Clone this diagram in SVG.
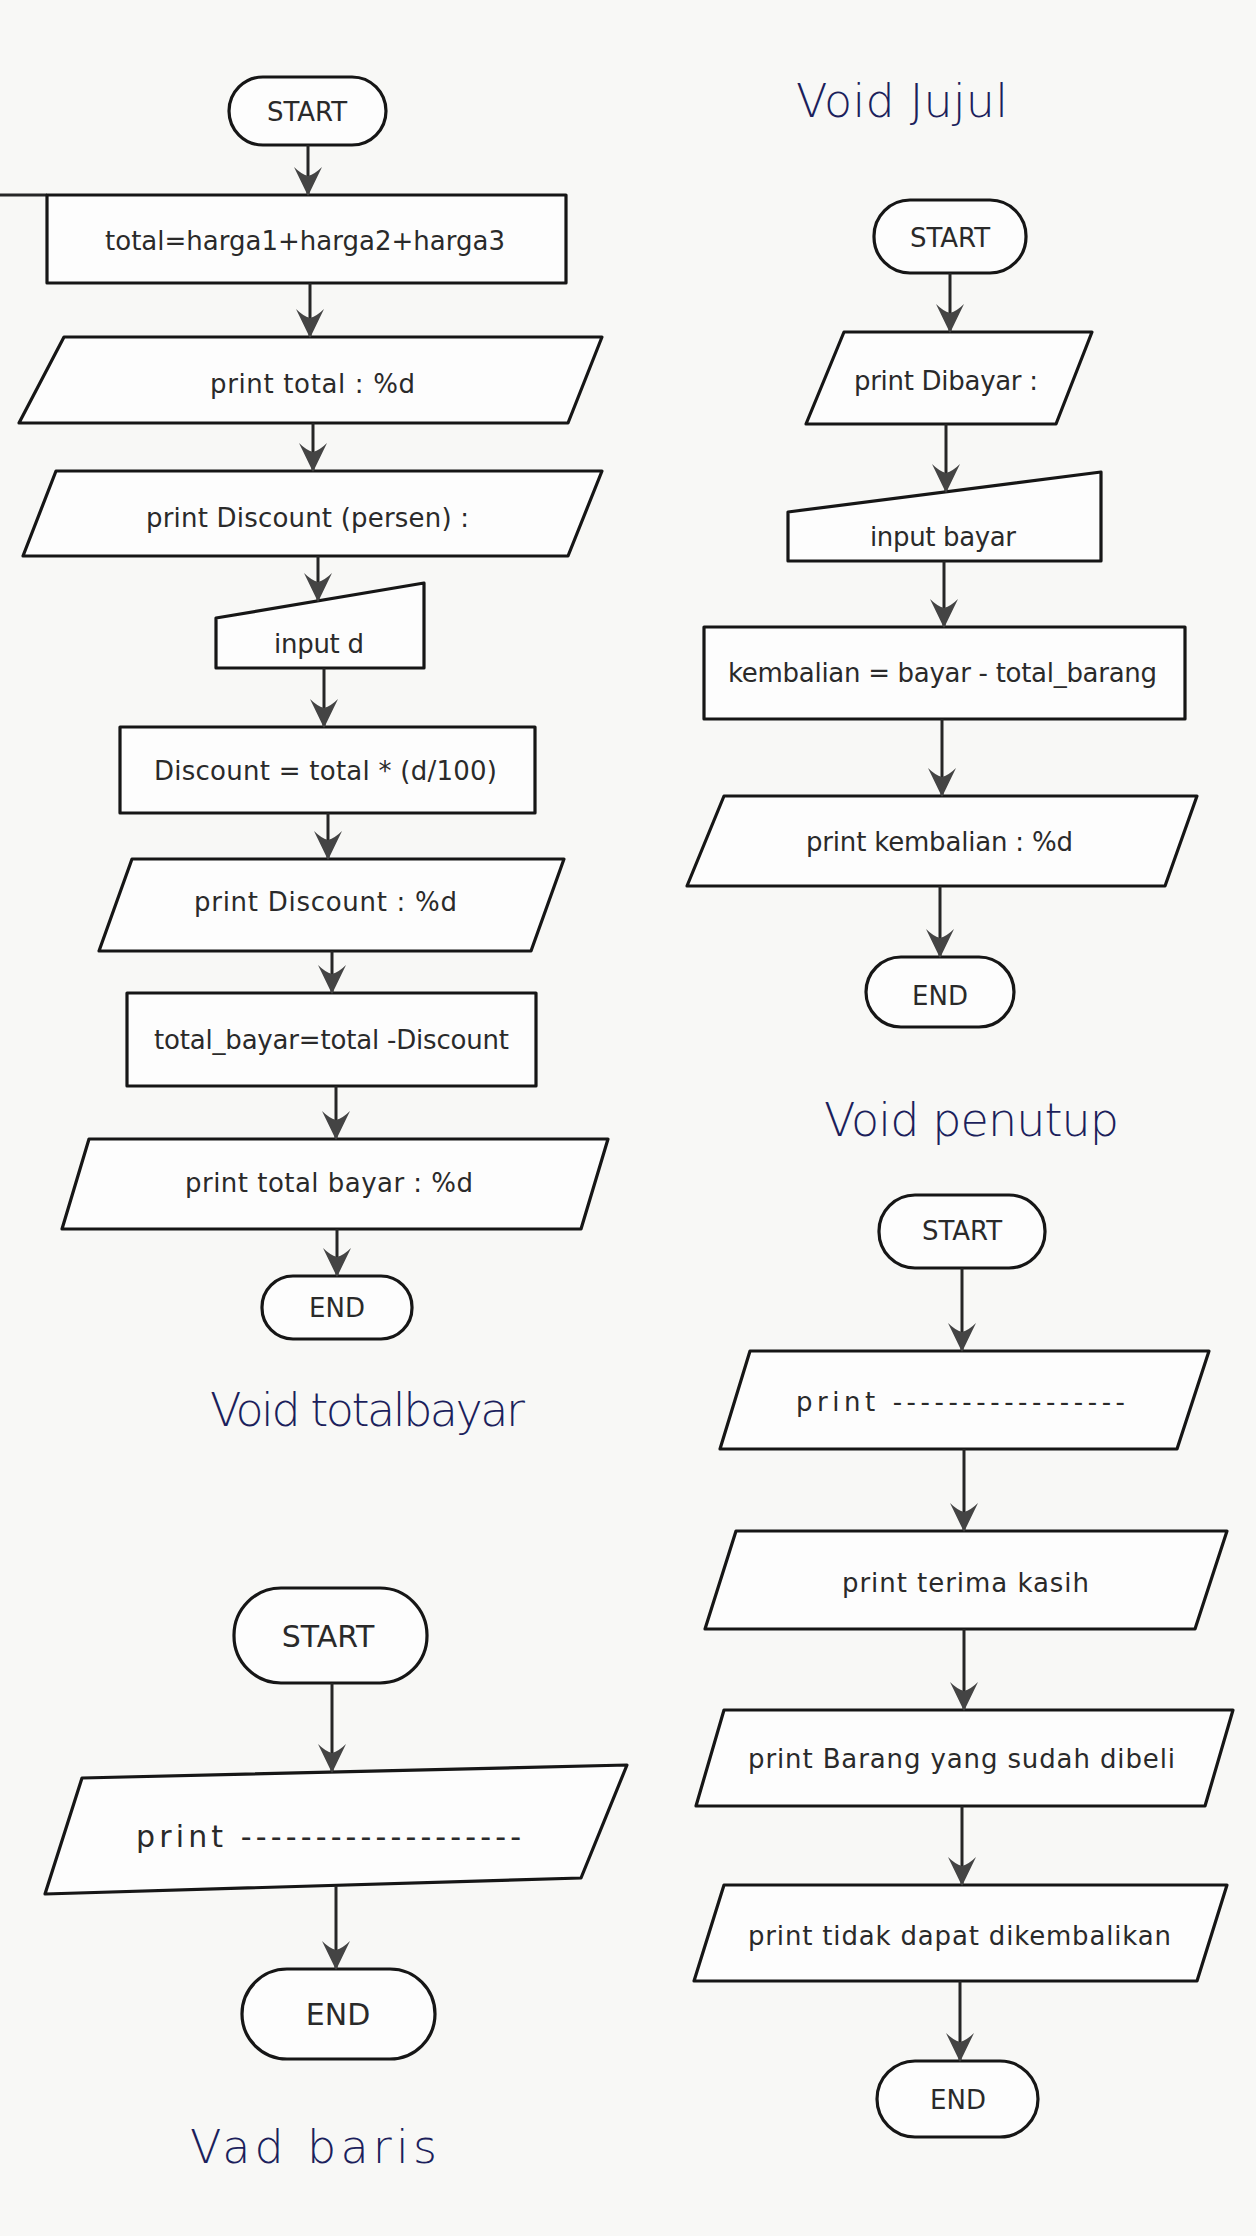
<svg xmlns="http://www.w3.org/2000/svg" width="1256" height="2236" viewBox="0 0 1256 2236">
<style>
.bg{fill:#f8f8f6}
.shape{fill:#fdfdfd;stroke:#161616;stroke-width:3.2;stroke-linejoin:round}
.edge{stroke:#262626;stroke-width:3;fill:none}
.lbl{font-family:"DejaVu Sans","Liberation Sans",sans-serif;font-size:26px;fill:#2a2a2a}
.big{font-size:30px}
.mid{text-anchor:middle}
.hand{font-family:"DejaVu Sans","Liberation Sans",sans-serif;font-weight:200;font-size:46px;fill:#1c1f5c}
</style>
<defs>
<marker id="ah" viewBox="0 0 30 30" refX="28" refY="15" markerWidth="30" markerHeight="30" markerUnits="userSpaceOnUse" orient="auto">
<path d="M29,15 L0,1 Q7,8 9,15 Q7,22 0,29 Z" fill="#444"/>
</marker>
</defs>
<rect class="bg" x="0" y="0" width="1256" height="2236"/>

<!-- Void totalbayar column -->
<g id="t-start"><rect class="shape" x="229" y="77" width="157" height="68" rx="34"/><text class="lbl mid" x="307" y="121">START</text></g>
<g id="t-total"><line class="edge" x1="0" y1="195" x2="47" y2="195"/><rect class="shape" x="47" y="195" width="519" height="88"/><text class="lbl" x="105" y="250" textLength="400" lengthAdjust="spacing">total=harga1+harga2+harga3</text></g>
<g id="t-printtotal"><polygon class="shape" points="64,337 602,337 568,423 19,423"/><text class="lbl" x="210" y="393" textLength="205" lengthAdjust="spacing">print total : %d</text></g>
<g id="t-printdisc"><polygon class="shape" points="56,471 602,471 568,556 23,556"/><text class="lbl" x="146" y="527" textLength="323" lengthAdjust="spacing">print Discount (persen) :</text></g>
<g id="t-inputd"><polygon class="shape" points="216,618 424,583 424,668 216,668"/><text class="lbl" x="274" y="653" textLength="90" lengthAdjust="spacing">input d</text></g>
<g id="t-disc"><rect class="shape" x="120" y="727" width="415" height="86"/><text class="lbl" x="154" y="780" textLength="343" lengthAdjust="spacing">Discount = total * (d/100)</text></g>
<g id="t-printdisc2"><polygon class="shape" points="132,859 564,859 531,951 99,951"/><text class="lbl" x="194" y="911" textLength="263" lengthAdjust="spacing">print Discount : %d</text></g>
<g id="t-totalbayar"><rect class="shape" x="127" y="993" width="409" height="93"/><text class="lbl" x="154" y="1049" textLength="355" lengthAdjust="spacing">total_bayar=total -Discount</text></g>
<g id="t-printbayar"><polygon class="shape" points="89,1139 608,1139 581,1229 62,1229"/><text class="lbl" x="185" y="1192" textLength="288" lengthAdjust="spacing">print total bayar : %d</text></g>
<g id="t-end"><rect class="shape" x="262" y="1276" width="150" height="63" rx="31"/><text class="lbl mid" x="337" y="1317">END</text></g>
<g id="t-title"><text class="hand" x="210" y="1426" textLength="315" lengthAdjust="spacing">Void totalbayar</text></g>

<!-- Void Jujul column -->
<g id="j-title"><text class="hand" x="796" y="117" textLength="212" lengthAdjust="spacing">Void Jujul</text></g>
<g id="j-start"><rect class="shape" x="874" y="200" width="152" height="73" rx="36"/><text class="lbl mid" x="950" y="247">START</text></g>
<g id="j-printbayar"><polygon class="shape" points="844,332 1092,332 1056,424 806,424"/><text class="lbl" x="854" y="390" textLength="184" lengthAdjust="spacing">print Dibayar :</text></g>
<g id="j-input"><polygon class="shape" points="788,512 1101,472 1101,561 788,561"/><text class="lbl" x="870" y="546" textLength="146" lengthAdjust="spacing">input bayar</text></g>
<g id="j-kembalian"><rect class="shape" x="704" y="627" width="481" height="92"/><text class="lbl" x="728" y="682" textLength="429" lengthAdjust="spacing">kembalian = bayar - total_barang</text></g>
<g id="j-printkemb"><polygon class="shape" points="724,796 1197,796 1165,886 687,886"/><text class="lbl" x="806" y="851" textLength="267" lengthAdjust="spacing">print kembalian : %d</text></g>
<g id="j-end"><rect class="shape" x="866" y="957" width="148" height="70" rx="35"/><text class="lbl mid" x="940" y="1005">END</text></g>

<!-- Void penutup column -->
<g id="p-title"><text class="hand" x="824" y="1136" textLength="295" lengthAdjust="spacing">Void penutup</text></g>
<g id="p-start"><rect class="shape" x="879" y="1195" width="166" height="73" rx="36"/><text class="lbl mid" x="962" y="1240">START</text></g>
<g id="p-line"><polygon class="shape" points="750,1351 1209,1351 1177,1449 720,1449"/><text class="lbl" x="796" y="1411" textLength="329" lengthAdjust="spacing">print -----------------</text></g>
<g id="p-terima"><polygon class="shape" points="736,1531 1227,1531 1195,1629 705,1629"/><text class="lbl" x="842" y="1592" textLength="247" lengthAdjust="spacing">print terima kasih</text></g>
<g id="p-barang"><polygon class="shape" points="724,1710 1233,1710 1205,1806 696,1806"/><text class="lbl" x="748" y="1768" textLength="427" lengthAdjust="spacing">print Barang yang sudah dibeli</text></g>
<g id="p-tidak"><polygon class="shape" points="724,1885 1227,1885 1197,1981 694,1981"/><text class="lbl" x="748" y="1945" textLength="423" lengthAdjust="spacing">print tidak dapat dikembalikan</text></g>
<g id="p-end"><rect class="shape" x="877" y="2061" width="161" height="76" rx="38"/><text class="lbl mid" x="958" y="2109">END</text></g>

<!-- Void baris column -->
<g id="b-start"><rect class="shape" x="234" y="1588" width="193" height="95" rx="47"/><text class="lbl big mid" x="328" y="1647">START</text></g>
<g id="b-line"><polygon class="shape" points="82,1778 627,1765 581,1878 45,1894"/><text class="lbl big" x="136" y="1847" textLength="385" lengthAdjust="spacing">print -------------------</text></g>
<g id="b-end"><rect class="shape" x="242" y="1969" width="193" height="90" rx="45"/><text class="lbl big mid" x="338" y="2025">END</text></g>
<g id="b-title"><text class="hand" x="190" y="2163" textLength="247" lengthAdjust="spacing">Vad baris</text></g>

<g id="connectors">
<line class="edge" x1="308" y1="145" x2="308" y2="195" marker-end="url(#ah)"/>
<line class="edge" x1="310" y1="283" x2="310" y2="337" marker-end="url(#ah)"/>
<line class="edge" x1="313" y1="423" x2="313" y2="471" marker-end="url(#ah)"/>
<line class="edge" x1="318" y1="556" x2="318" y2="601" marker-end="url(#ah)"/>
<line class="edge" x1="324" y1="668" x2="324" y2="727" marker-end="url(#ah)"/>
<line class="edge" x1="328" y1="813" x2="328" y2="859" marker-end="url(#ah)"/>
<line class="edge" x1="332" y1="951" x2="332" y2="993" marker-end="url(#ah)"/>
<line class="edge" x1="336" y1="1086" x2="336" y2="1139" marker-end="url(#ah)"/>
<line class="edge" x1="337" y1="1229" x2="337" y2="1276" marker-end="url(#ah)"/>

<line class="edge" x1="950" y1="273" x2="950" y2="332" marker-end="url(#ah)"/>
<line class="edge" x1="946" y1="424" x2="946" y2="492" marker-end="url(#ah)"/>
<line class="edge" x1="944" y1="561" x2="944" y2="627" marker-end="url(#ah)"/>
<line class="edge" x1="942" y1="719" x2="942" y2="796" marker-end="url(#ah)"/>
<line class="edge" x1="940" y1="886" x2="940" y2="957" marker-end="url(#ah)"/>

<line class="edge" x1="962" y1="1268" x2="962" y2="1351" marker-end="url(#ah)"/>
<line class="edge" x1="964" y1="1449" x2="964" y2="1531" marker-end="url(#ah)"/>
<line class="edge" x1="964" y1="1629" x2="964" y2="1710" marker-end="url(#ah)"/>
<line class="edge" x1="962" y1="1806" x2="962" y2="1885" marker-end="url(#ah)"/>
<line class="edge" x1="960" y1="1981" x2="960" y2="2061" marker-end="url(#ah)"/>

<line class="edge" x1="332" y1="1683" x2="332" y2="1772" marker-end="url(#ah)"/>
<line class="edge" x1="336" y1="1886" x2="336" y2="1969" marker-end="url(#ah)"/>
</g>
</svg>
